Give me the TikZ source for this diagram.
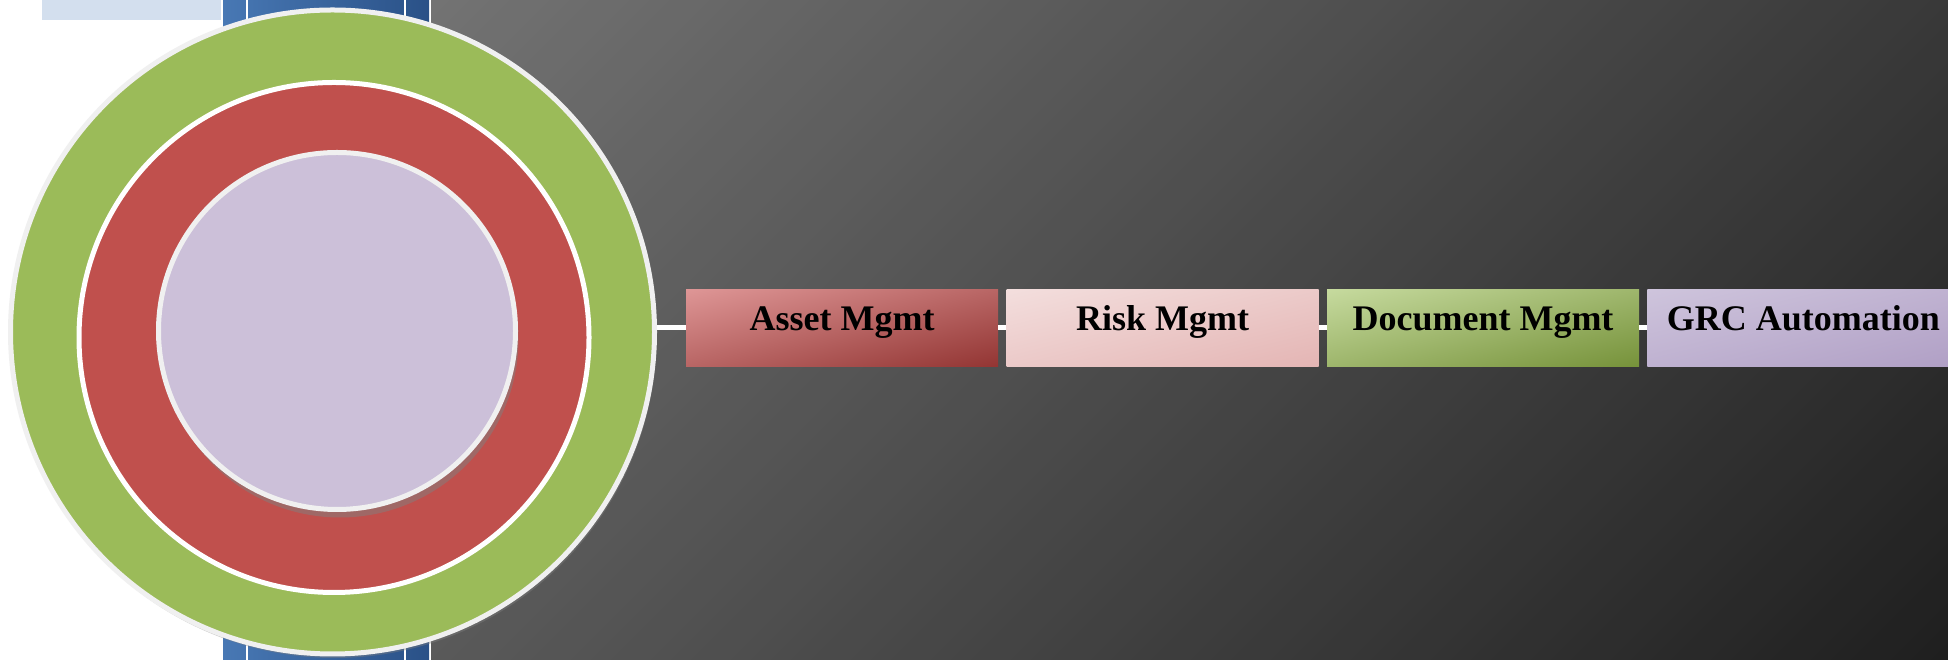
\documentclass[tikz,border=0pt]{standalone}
\usepackage{fontspec}
\setmainfont{Liberation Serif}
\usetikzlibrary{positioning,shadows}

\definecolor{paleblue}{HTML}{D3DFEE}
\definecolor{bandleft}{HTML}{4878B4}
\definecolor{bandright}{HTML}{2A5187}
\definecolor{ringgreen}{HTML}{9BBB59}
\definecolor{ringred}{HTML}{C0504D}
\definecolor{ringlilac}{HTML}{CCC0D9}
\definecolor{rimgray}{HTML}{F0F0F0}

% diagonal fill: top-left colour (r g b), then change towards bottom-right
\newcommand\stageshading[7]{%
  \pgfdeclarefunctionalshading{#1}{\pgfpointorigin}{\pgfpoint{100bp}{100bp}}{}{%
    sub 50 add 100 div
    dup #5 mul #2 add
    exch dup #6 mul #3 add
    exch #7 mul #4 add
  }}
\stageshading{assetfill}{0.871}{0.588}{0.588}{-0.295}{-0.380}{-0.388}
\stageshading{riskfill}{0.953}{0.871}{0.867}{-0.059}{-0.161}{-0.161}
\stageshading{docfill}{0.776}{0.855}{0.620}{-0.313}{-0.282}{-0.393}
\stageshading{grcfill}{0.808}{0.769}{0.863}{-0.118}{-0.145}{-0.090}

\begin{document}
\begin{tikzpicture}[x=1pt,y=1pt,
  ring/.style={circle,inner sep=0pt,line width=5pt},
  stage/.style={minimum width=312pt,minimum height=77pt,inner sep=0pt,
    shade,shading=#1,
    font=\fontsize{36}{40}\selectfont\bfseries,text=black,
    text height=24pt,text depth=18pt},
  link/.style={draw=white,line width=5pt}]
	\useasboundingbox (0,0) rectangle (1948,660);
	\fill[white] (0,0) rectangle (1948,660);

	% background strips
	\fill[paleblue] (42,640) rectangle (221,660);
	\shade[left color=bandleft,right color=bandright] (223,0) rectangle (429,660);
	\fill[white] (246,0) rectangle (248,660);
	\fill[white] (404,0) rectangle (406,660);
	\begin{scope}
		\clip (431,0) rectangle (1948,660);
		\foreach \k in {0,...,108}{
			\pgfmathsetmacro\g{0.4495-0.003026*\k}
			\definecolor{strip}{gray}{\g}
			\fill[strip] ({-229+20*\k},0) -- ({-208+20*\k},0) -- ({452+20*\k},660) -- ({431+20*\k},660) -- cycle;
		}
	\end{scope}

	% rings
	\node[ring,draw=rimgray,fill=ringgreen,minimum size=644pt,
	  drop shadow={opacity=.4,shadow xshift=2pt,shadow yshift=-4pt}] (ringout) at (332.5,328) {};
	\node[ring,draw=white,fill=ringred,minimum size=510pt] (ringmid) at (334,322.5) {};
	\node[ring,draw=rimgray,fill=ringlilac,minimum size=357pt,
	  drop shadow={opacity=.5,shadow xshift=3pt,shadow yshift=-8pt}] (core) at (337,329) {};

	% stages
	\node[stage=assetfill,anchor=west] (asset) at (686,332) {Asset Mgmt};
	\node[stage=riskfill,right=8pt of asset] (risk) {Risk Mgmt};
	\node[stage=docfill,right=8pt of risk] (doc) {Document Mgmt};
	\node[stage=grcfill,right=8pt of doc] (grc) {GRC Automation};

	\draw[link] (ringout.east |- asset.west)--(asset.west);
	\draw[link] (asset.east)--(risk.west);
	\draw[link] (risk.east)--(doc.west);
	\draw[link] (doc.east)--(grc.west);
\end{tikzpicture}
\end{document}
